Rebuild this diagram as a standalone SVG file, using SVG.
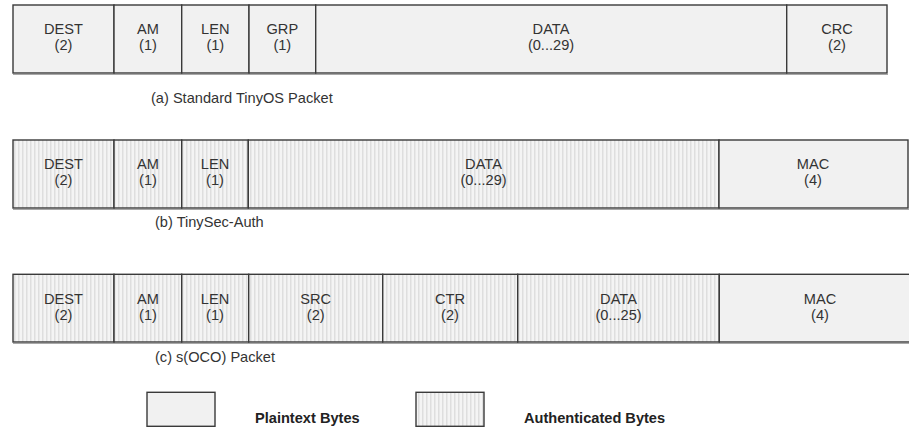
<svg xmlns="http://www.w3.org/2000/svg" width="909" height="427" viewBox="0 0 909 427">
<style>
.f{stroke:#3a3a3a;stroke-width:1.4}
.p{fill:#f1f1f1}
.a{fill:url(#stripes)}
text{font-family:"Liberation Sans",Arial,sans-serif;font-size:14.6px;fill:#333}
.c{text-anchor:middle}
.b{font-weight:bold;fill:#222}
.sh{stroke:#a8a8a8;stroke-width:1.2;fill:none}
</style>
<defs>
<pattern id="stripes" x="0" y="0" width="4" height="10" patternUnits="userSpaceOnUse">
<rect width="4" height="10" fill="#f4f4f4"/>
<rect x="2" width="1.5" height="10" fill="#dedede"/>
</pattern>
</defs>
<g id="row-a">
<line class="sh" x1="13" y1="74.5" x2="888" y2="74.5"/>
<g id="a-dest"><rect class="f p" x="13" y="5" width="101" height="68"/><text class="c" x="63.5" y="34">DEST</text><text class="c" x="63.5" y="50">(2)</text></g>
<g id="a-am"><rect class="f p" x="114" y="5" width="67.7" height="68"/><text class="c" x="148" y="34">AM</text><text class="c" x="148" y="50">(1)</text></g>
<g id="a-len"><rect class="f p" x="181.7" y="5" width="67.3" height="68"/><text class="c" x="215.3" y="34">LEN</text><text class="c" x="215.3" y="50">(1)</text></g>
<g id="a-grp"><rect class="f p" x="249" y="5" width="66.7" height="68"/><text class="c" x="282.3" y="34">GRP</text><text class="c" x="282.3" y="50">(1)</text></g>
<g id="a-data"><rect class="f p" x="315.7" y="5" width="471" height="68"/><text class="c" x="551" y="34">DATA</text><text class="c" x="551" y="50">(0...29)</text></g>
<g id="a-crc"><rect class="f p" x="786.7" y="5" width="100.3" height="68"/><text class="c" x="837" y="34">CRC</text><text class="c" x="837" y="50">(2)</text></g>
<text x="151" y="102.5">(a) Standard TinyOS Packet</text>
</g>
<g id="row-b">
<line class="sh" x1="13" y1="209.5" x2="909" y2="209.5"/>
<g id="b-dest"><rect class="f a" x="13" y="140" width="101" height="68"/><text class="c" x="63.5" y="168.5">DEST</text><text class="c" x="63.5" y="184.5">(2)</text></g>
<g id="b-am"><rect class="f a" x="114" y="140" width="67.7" height="68"/><text class="c" x="148" y="168.5">AM</text><text class="c" x="148" y="184.5">(1)</text></g>
<g id="b-len"><rect class="f a" x="181.7" y="140" width="66.6" height="68"/><text class="c" x="215" y="168.5">LEN</text><text class="c" x="215" y="184.5">(1)</text></g>
<g id="b-data"><rect class="f a" x="248.3" y="140" width="470.7" height="68"/><text class="c" x="483.5" y="168.5">DATA</text><text class="c" x="483.5" y="184.5">(0...29)</text></g>
<g id="b-mac"><rect class="f p" x="719" y="140" width="189" height="68"/><text class="c" x="813" y="168.5">MAC</text><text class="c" x="813" y="184.5">(4)</text></g>
<text x="155" y="226.7">(b) TinySec-Auth</text>
</g>
<g id="row-c">
<line class="sh" x1="13" y1="343.5" x2="909" y2="343.5"/>
<g id="c-dest"><rect class="f a" x="13" y="274.3" width="101" height="67.7"/><text class="c" x="63.5" y="304">DEST</text><text class="c" x="63.5" y="320">(2)</text></g>
<g id="c-am"><rect class="f a" x="114" y="274.3" width="67.7" height="67.7"/><text class="c" x="148" y="304">AM</text><text class="c" x="148" y="320">(1)</text></g>
<g id="c-len"><rect class="f a" x="181.7" y="274.3" width="67" height="67.7"/><text class="c" x="215" y="304">LEN</text><text class="c" x="215" y="320">(1)</text></g>
<g id="c-src"><rect class="f a" x="248.7" y="274.3" width="134" height="67.7"/><text class="c" x="315.7" y="304">SRC</text><text class="c" x="315.7" y="320">(2)</text></g>
<g id="c-ctr"><rect class="f a" x="382.7" y="274.3" width="135" height="67.7"/><text class="c" x="450" y="304">CTR</text><text class="c" x="450" y="320">(2)</text></g>
<g id="c-data"><rect class="f a" x="517.7" y="274.3" width="201.6" height="67.7"/><text class="c" x="618.5" y="304">DATA</text><text class="c" x="618.5" y="320">(0...25)</text></g>
<g id="c-mac"><rect class="f p" x="719.3" y="274.3" width="192" height="67.7"/><text class="c" x="820" y="304">MAC</text><text class="c" x="820" y="320">(4)</text></g>
<text x="155" y="361.7">(c) s(OCO) Packet</text>
</g>
<g id="legend">
<g id="legend-plain"><rect class="f p" x="147" y="392.3" width="68" height="34"/><text class="b" x="255" y="423">Plaintext Bytes</text></g>
<g id="legend-auth"><rect class="f a" x="416" y="392.3" width="68" height="34"/><text class="b" x="524" y="423">Authenticated Bytes</text></g>
</g>
</svg>
